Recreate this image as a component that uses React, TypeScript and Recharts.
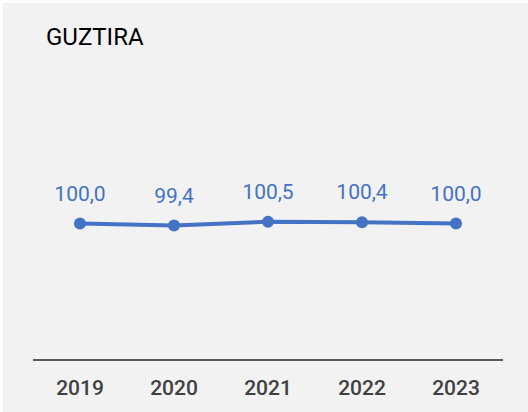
import React from "react";
import { LineChart, Line, XAxis, YAxis, LabelList } from "recharts";

const years = ["2019", "2020", "2021", "2022", "2023"];
const values = [100.0, 99.4, 100.5, 100.4, 100.0];
const title = "GUZTIRA";

const data = years.map((y, i) => ({ year: y, value: values[i] }));

const fmt = (v: any) => Number(v).toFixed(1).replace(".", ",");

export default function App() {
  return (
    <div style={{ position: "absolute", left: 0, top: 0, width: 528, height: 412, background: "#ffffff" }}>
      <div style={{ position: "absolute", left: 3, top: 3, width: 525, height: 409, background: "#f2f2f2" }} />
      <div
        style={{
          position: "absolute",
          left: 46,
          top: 24,
          fontFamily: "Roboto",
          fontSize: 24,
          color: "#000",
          lineHeight: "27px",
        }}
      >
        {title}
      </div>
      <div style={{ position: "absolute", left: 0, top: 0 }}>
        <LineChart
          width={528}
          height={412}
          data={data}
          margin={{ top: 87, right: 25, bottom: 12, left: 33 }}
        >
          <XAxis
            dataKey="year"
            height={40}
            axisLine={{ stroke: "#595959", strokeWidth: 2 }}
            tickLine={false}
            tickSize={0}
            tickMargin={20}
            padding={{ left: 47, right: 47 }}
            tick={{ fill: "#404040", fontSize: 21, fontFamily: "Roboto", fontWeight: 500 }}
            interval={0}
          />
          <YAxis hide domain={[60, 140]} />
          <Line
            type="linear"
            dataKey="value"
            stroke="#4472c4"
            strokeWidth={4}
            dot={{ r: 6, fill: "#4472c4", stroke: "#4472c4", strokeWidth: 0 }}
            isAnimationActive={false}
          >
            <LabelList
              dataKey="value"
              position="top"
              offset={23}
              formatter={fmt}
              style={{ fill: "#4472c4", fontSize: 21, fontFamily: "Roboto" }}
            />
          </Line>
        </LineChart>
      </div>
    </div>
  );
}
